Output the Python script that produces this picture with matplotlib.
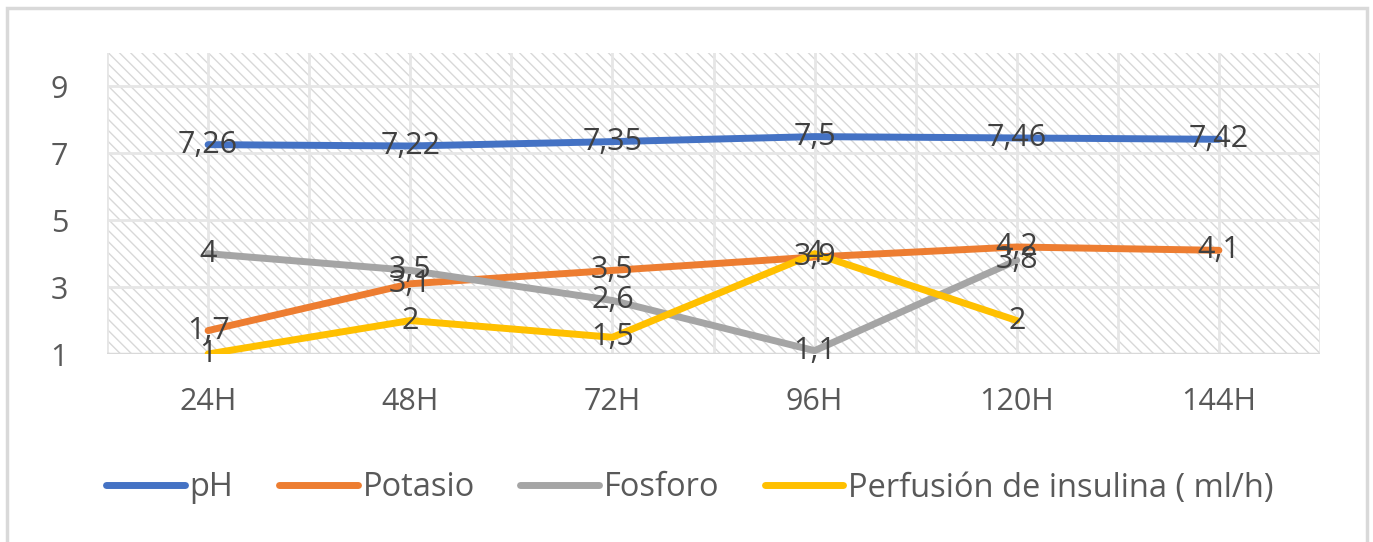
import matplotlib
matplotlib.use("Agg")
import matplotlib.pyplot as plt
from matplotlib.patches import Rectangle
import numpy as np

categories = ["24H", "48H", "72H", "96H", "120H", "144H"]
ph = [7.26, 7.22, 7.35, 7.5, 7.46, 7.42]
potasio = [1.7, 3.1, 3.5, 3.9, 4.2, 4.1]
fosforo = [4, 3.5, 2.6, 1.1, 3.8, None]
insulina = [1, 2, 1.5, 4, 2, None]
series_names = ["pH", "Potasio", "Fosforo", "Perfusión de insulina ( ml/h)"]
yticks = [1, 3, 5, 7, 9]

colors = ["#4472C4", "#ED7D31", "#A5A5A5", "#FFC000"]
txt = "#595959"
lbl = "#404040"
plt.rcParams['font.family'] = ['Open Sans', 'DejaVu Sans']
plt.rcParams['hatch.linewidth'] = 1.0
FS = 22

W, H = 1373, 542
fig = plt.figure(figsize=(W / 100, H / 100), dpi=100)
L, R, T, B = 107, 1320, 53, 354
ax = fig.add_axes([L / W, 1 - B / H, (R - L) / W, (B - T) / H])

ax.add_patch(Rectangle((0, 0), 1, 1, transform=ax.transAxes, facecolor="white",
                       edgecolor="#D8D8D8", hatch="\\\\\\", lw=0, zorder=0))

x = np.arange(len(categories))
ax.set_xlim(-0.5, len(categories) - 0.5)
ax.set_ylim(1, 10)
for xv in np.arange(-0.5, len(categories), 0.5):
    ax.axvline(xv, color="#E6E6E6", lw=2, zorder=1)
for yv in yticks:
    ax.axhline(yv, color="#E6E6E6", lw=2, zorder=1)
ax.axhline(1, color="#D9D9D9", lw=2.5, zorder=1)

all_series = [ph, potasio, fosforo, insulina]
for vals, c, name in zip(all_series, colors, series_names):
    xs = [i for i, v in enumerate(vals) if v is not None]
    ys = [v for v in vals if v is not None]
    ax.plot(xs, ys, color=c, lw=5, solid_capstyle="round", solid_joinstyle="round",
            label=name, zorder=3)
for vals in all_series:
    for i, v in enumerate(vals):
        if v is None:
            continue
        s = ("%g" % v).replace(".", ",")
        ax.text(i, v, s, ha="center", va="center", fontsize=FS, color=lbl, zorder=5)

for s in ax.spines.values():
    s.set_visible(False)
ax.set_xticks(x)
ax.set_xticklabels(categories)
ax.set_yticks(yticks)
ax.set_yticklabels([str(v) for v in yticks])
ax.tick_params(axis="both", length=0, labelsize=FS, labelcolor=txt)
ax.tick_params(axis="y", pad=28)
ax.tick_params(axis="x", pad=24)

fig.legend(loc="center", bbox_to_anchor=(690 / W, 1 - 488 / H), ncol=4, frameon=False,
           fontsize=23.5, labelcolor=txt, handlelength=2.4, handletextpad=0.15,
           columnspacing=1.4)

fig.patches.append(Rectangle((7 / W, -0.02), (1367 - 7) / W, (542 - 8) / H + 0.02,
                             transform=fig.transFigure, fill=False,
                             edgecolor="#D9D9D9", lw=2.5))

fig.savefig("out.png", dpi=100)
